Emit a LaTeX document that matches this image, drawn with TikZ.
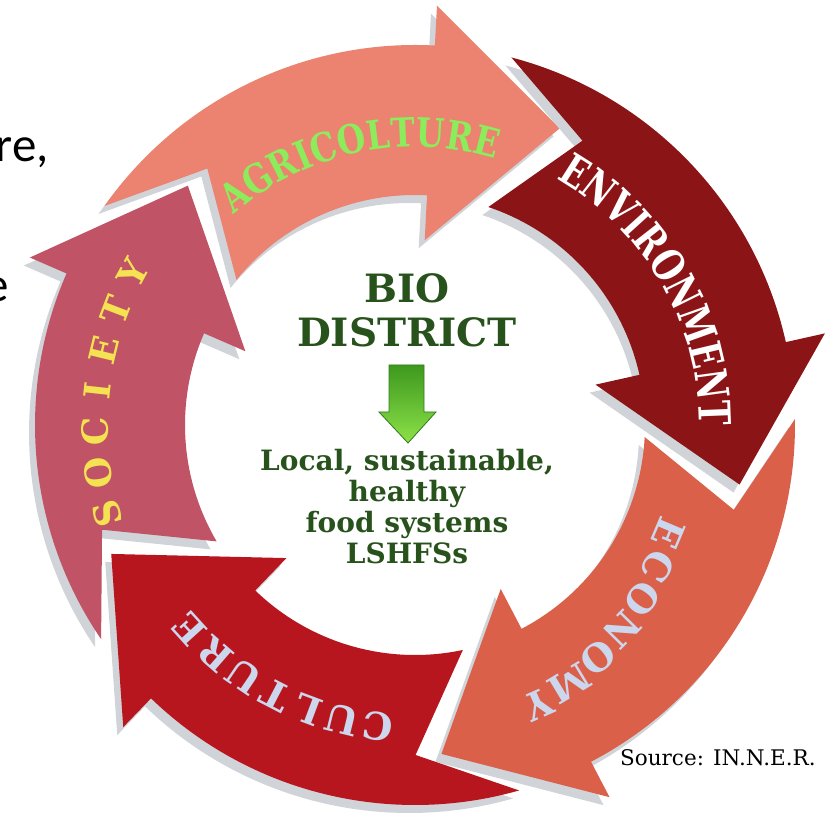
\documentclass[tikz,border=0pt]{standalone}
\usepackage{fontspec}
\setmainfont{DejaVu Serif}
\newfontfamily\narrowfont[FakeStretch=0.82]{DejaVu Serif}
\newfontfamily\tallfont[FakeStretch=0.75]{DejaVu Serif}
\newfontfamily\notefont{Carlito}
\usetikzlibrary{decorations.text,shadows}

\definecolor{societyrose}{RGB}{192,84,102}
\definecolor{agrisalmon}{RGB}{236,130,112}
\definecolor{envired}{RGB}{139,20,22}
\definecolor{econorange}{RGB}{218,96,74}
\definecolor{culturered}{RGB}{183,22,30}
\definecolor{shadowgrey}{RGB}{208,212,216}
\definecolor{agrigreen}{RGB}{140,236,92}
\definecolor{societyyellow}{RGB}{245,226,82}
\definecolor{paleblue}{RGB}{204,214,236}
\definecolor{biogreen}{RGB}{40,82,28}
\definecolor{arrowlight}{RGB}{140,226,72}
\definecolor{arrowdark}{RGB}{62,152,30}

\newcommand\agrifont{\narrowfont\bfseries\fontsize{40}{40}\selectfont}
\newcommand\envfont{\tallfont\bfseries\fontsize{44}{44}\selectfont}

\begin{document}
\begin{tikzpicture}[x=1pt,y=1pt,
    ringarrow/.style={drop shadow={shadow xshift=-6pt,shadow yshift=-8pt,fill=shadowgrey,opacity=1}},
    ringletter/.style={font=\bfseries\fontsize{#1}{#1}\selectfont,inner sep=0pt},
    bio/.style={text=biogreen,inner sep=0pt}]
\useasboundingbox (0,0) rectangle (825,815);
\clip (0,0) rectangle (825,815);

% cut off words of the page beside it
\node (frag1) [anchor=base east,inner sep=0pt,font=\notefont\fontsize{49}{49}\selectfont] at (49,653) {re,};
\node (frag2) [anchor=base east,inner sep=0pt,font=\notefont\fontsize{49}{49}\selectfont] at (9,513) {e};

\begin{scope}[shift={(415,390)}]
% the five arrows: head angle / head angle of the one before / colour
\foreach \hd/\pv/\col in {156.5/226/societyrose,87/156.5/agrisalmon,12.6/87/envired,
                          -62.4/12.6/econorange,-134/-62.4/culturered}
  \fill[\col,ringarrow] ({\pv-11.7}:380pt) arc[start angle={\pv-11.7},end angle=\hd,radius=380pt]
    -- (\hd:420pt) -- ({\hd-23}:330pt) -- (\hd:185pt) -- (\hd:230pt)
    arc[start angle=\hd,end angle={\pv-15.6},radius=230pt] -- ({\pv-27.5}:330pt) -- cycle;

% labels on the ring
\path[decorate,decoration={text along path,text align=center,text color=agrigreen,
    text={|\agrifont|AGRICOLTURE}}] (143:278pt) arc[start angle=143,end angle=61,radius=278pt];
\path[decorate,decoration={text along path,text align=center,text color=white,
    text={|\envfont|ENVIRONMENT}}] (70:284pt) arc[start angle=70,end angle=-10,radius=284pt];
\foreach \ch [count=\i,evaluate=\i as \a using 196-7.4*(\i-1)] in {S,O,C,I,E,T,Y}
  \node (soc\i) [ringletter=36,text=societyyellow,rotate=\a-90] at (\a:320pt) {\ch};
\foreach \ch [count=\i,evaluate=\i as \a using -23-7.2*(\i-1),
              evaluate=\i as \r using 276+5*(\i-1)] in {E,C,O,N,O,M,Y}
  \node (eco\i) [ringletter=38,text=paleblue,rotate=\a-90] at (\a:\r pt) {\ch};
\foreach \ch [count=\i,evaluate=\i as \a using 263-6.8*(\i-1)] in {C,U,L,T,U,R,E}
  \node (cul\i) [ringletter=38,text=paleblue,rotate=\a-90] at (\a:304pt) {\ch};
\end{scope}

% middle
\node (bio) [bio,font=\bfseries\fontsize{39}{39}\selectfont] at (407,527) {BIO};
\node (district) [bio,font=\bfseries\fontsize{39}{39}\selectfont] at (407,483) {DISTRICT};
\shade[top color=arrowdark,bottom color=arrowlight,draw=arrowdark!80!black,line width=0.8pt]
  (389,450) -- (424,450) -- (424,403) -- (436,403) -- (408,372) -- (379,403) -- (389,403) -- cycle;
\node (lshf) [bio,font=\bfseries\fontsize{28}{31}\selectfont,align=center] at (407,308)
  {Local, sustainable,\\healthy\\food systems\\LSHFSs};

\node (source) [anchor=base west,inner sep=0pt,font=\fontsize{21.5}{21.5}\selectfont] at (620,50) {Source: IN.N.E.R.};
\end{tikzpicture}
\end{document}
